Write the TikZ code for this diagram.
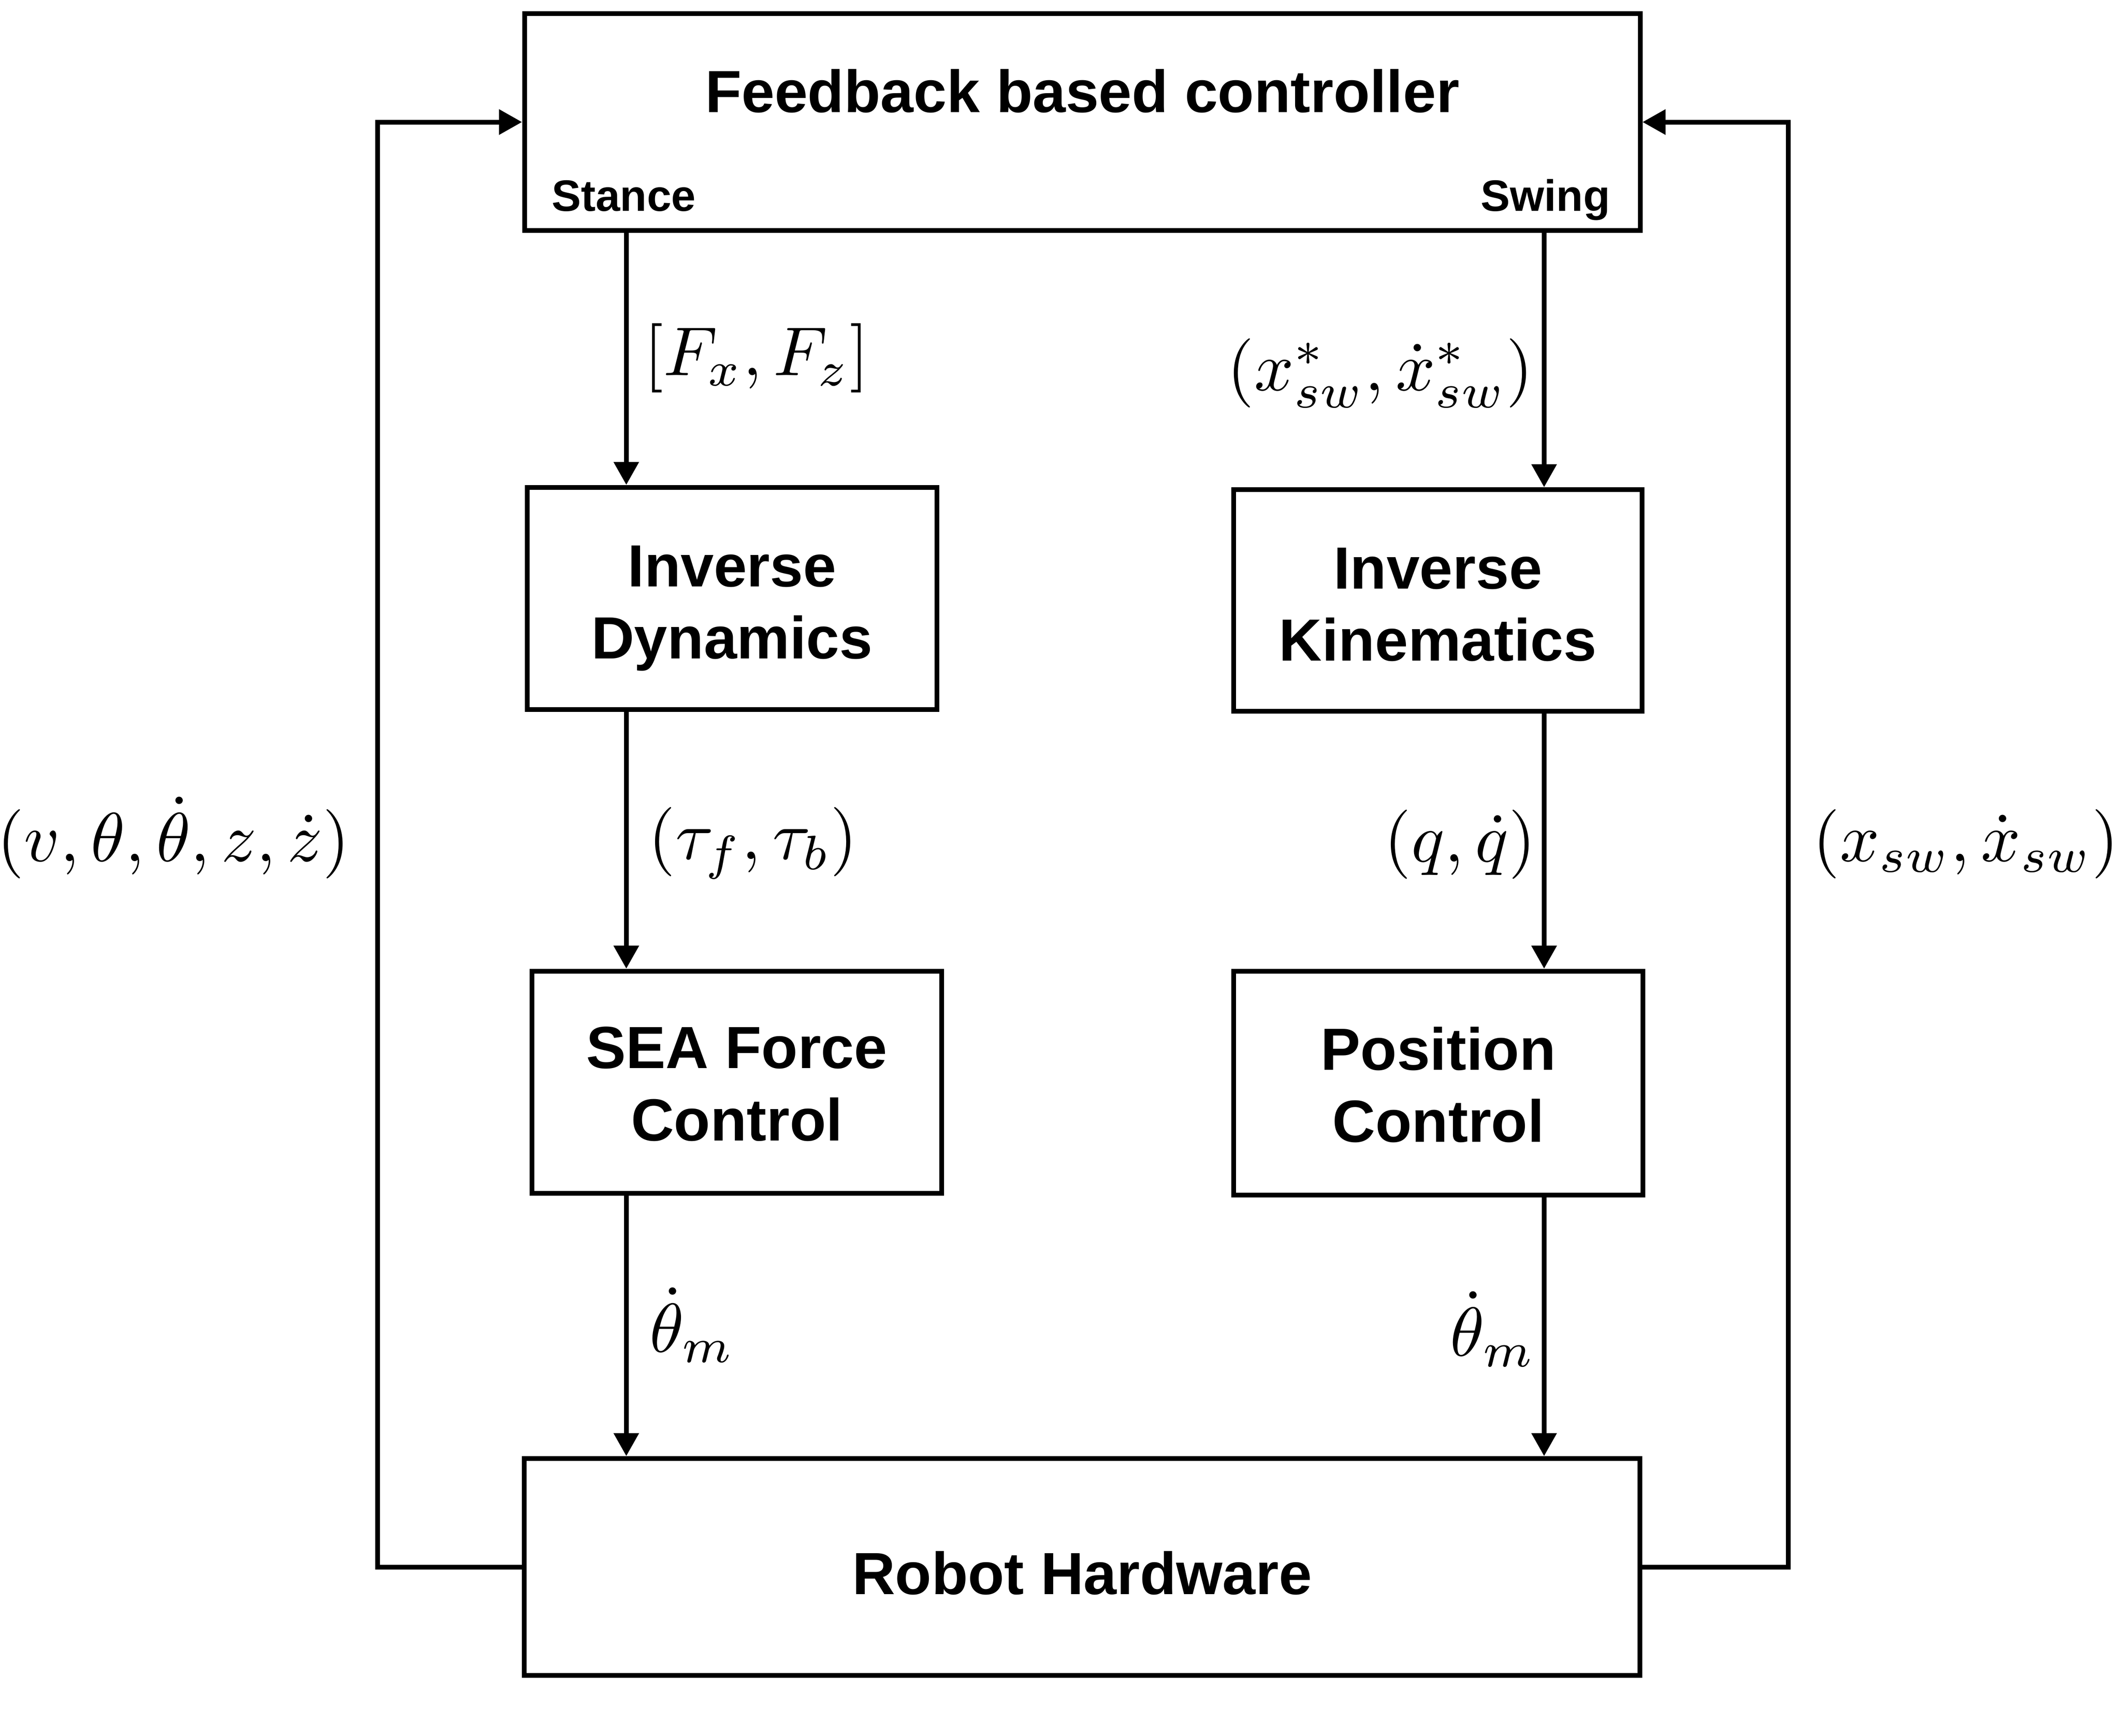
\documentclass[tikz,border=0pt]{standalone}
\usepackage{fontspec}
\newfontfamily\hvfont{Liberation Sans}
\usetikzlibrary{arrows.meta}
\newcommand\bxfont{\hvfont\bfseries\fontsize{44}{53.3}\selectfont}
\newcommand\smfont{\hvfont\bfseries\fontsize{32.5}{39}\selectfont}
\newcommand\mlab[1]{\scalebox{5.12}{$#1$}}
\begin{document}
\begin{tikzpicture}[x=1pt,y=-1pt,
  box/.style={draw, line width=3.5pt, inner sep=0pt, align=center, font=\bxfont, text depth=0pt},
  arr/.style={line width=3.5pt, -{Triangle[length=17pt,width=18pt]}},
  lab/.style={inner sep=0pt},
  txt/.style={inner sep=0pt}]
\useasboundingbox (0,0) rectangle (1568,1283.6);
% boxes
\node[box, minimum width=824.8pt, minimum height=160.5pt] (fbc) at (800.1,90.25) {};
\node[txt, font=\bxfont, anchor=base] (title) at (800.1,82.9) {Feedback based controller};
\node[txt, font=\smfont, anchor=base west] (stance) at (407.7,156.1) {Stance};
\node[txt, font=\smfont, anchor=base east] (swing) at (1190.5,156.2) {Swing};
\node[box, minimum width=302.7pt, minimum height=164.2pt, text height=89.4pt] (id) at (541.15,442.4) {Inverse\\Dynamics};
\node[box, minimum width=302pt, minimum height=164pt, text height=89.4pt] (ik) at (1063,444) {Inverse\\Kinematics};
\node[box, minimum width=303.1pt, minimum height=164.2pt, text height=86.4pt] (sea) at (544.75,800.1) {SEA Force\\Control};
\node[box, minimum width=302.6pt, minimum height=165.7pt, text height=87.3pt] (pc) at (1063.3,800.85) {Position\\Control};
\node[box, minimum width=824.7pt, minimum height=160.5pt, text height=40.7pt] (rh) at (800,1158.65) {Robot Hardware};
% guide coordinates
\coordinate (cl) at (463,0);
\coordinate (cr) at (1141.5,0);
\coordinate (fl) at (279,0);
\coordinate (fr) at (1322,0);
% forward arrows
\draw[arr] (cl |- fbc.south) -- (cl |- id.north);
\draw[arr] (cl |- id.south) -- (cl |- sea.north);
\draw[arr] (cl |- sea.south) -- (cl |- rh.north);
\draw[arr] (cr |- fbc.south) -- (cr |- ik.north);
\draw[arr] (cr |- ik.south) -- (cr |- pc.north);
\draw[arr] (cr |- pc.south) -- (cr |- rh.north);
% feedback
\draw[arr] (rh.west) -- (rh.west -| fl) -- (fbc.west -| fl) -- (fbc.west);
\draw[arr] (rh.east) -- (rh.east -| fr) -- (fbc.east -| fr) -- (fbc.east);
% labels
\node[lab, anchor=base west] (lf) at (476,277.4) {\mlab{[F_x, F_z]}};
\node[lab, anchor=base east] (lxs) at (1133.6,288.7) {\mlab{(x^*_{sw}, \dot{x}^*_{sw})}};
\node[lab, anchor=base west] (ltau) at (479.3,635.2) {\mlab{(\tau_f, \tau_b)}};
\node[lab, anchor=base east] (lq) at (1135.5,637.3) {\mlab{(q, \dot{q})}};
\node[lab, anchor=base west] (lstate) at (-2.3,637) {\mlab{(v, \theta, \dot{\theta}, z, \dot{z})}};
\node[lab, anchor=base west] (lsw) at (1340,637) {\mlab{(x_{sw}, \dot{x}_{sw})}};
\node[lab, anchor=base west] (lth1) at (480,999.7) {\mlab{\dot{\theta}_m}};
\node[lab, anchor=base west] (lth2) at (1072,1002.7) {\mlab{\dot{\theta}_m}};
\end{tikzpicture}
\end{document}
